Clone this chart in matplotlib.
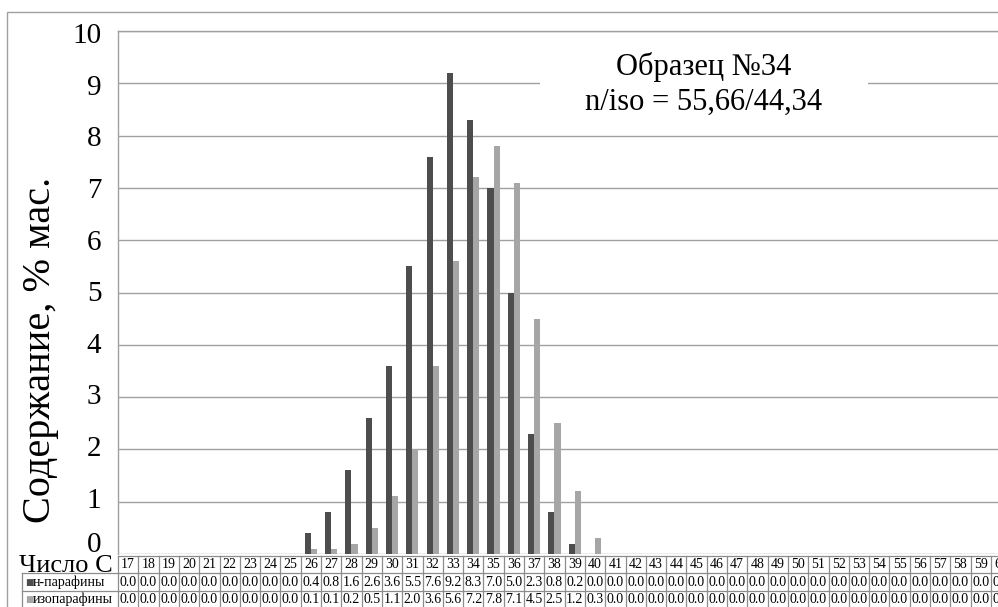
import numpy as np
import matplotlib
matplotlib.use("Agg")
import matplotlib.pyplot as plt
from matplotlib.patches import Rectangle
from matplotlib.transforms import blended_transform_factory, ScaledTranslation

# --- Données : распределение н- и изопарафинов по числу атомов C ---
carbon = list(range(17, 61))
n_paraffins = [0.0, 0.0, 0.0, 0.0, 0.0, 0.0, 0.0, 0.0, 0.0, 0.4, 0.8,
               1.6, 2.6, 3.6, 5.5, 7.6, 9.2, 8.3, 7.0, 5.0, 2.3, 0.8, 0.2,
               0.0, 0.0, 0.0, 0.0, 0.0, 0.0, 0.0, 0.0, 0.0, 0.0, 0.0, 0.0,
               0.0, 0.0, 0.0, 0.0, 0.0, 0.0, 0.0, 0.0, 0.0]
iso_paraffins = [0.0, 0.0, 0.0, 0.0, 0.0, 0.0, 0.0, 0.0, 0.0, 0.1, 0.1,
                 0.2, 0.5, 1.1, 2.0, 3.6, 5.6, 7.2, 7.8, 7.1, 4.5, 2.5, 1.2,
                 0.3, 0.0, 0.0, 0.0, 0.0, 0.0, 0.0, 0.0, 0.0, 0.0, 0.0, 0.0,
                 0.0, 0.0, 0.0, 0.0, 0.0, 0.0, 0.0, 0.0, 0.0]
series_names = ["н-парафины", "изопарафины"]
y_ticks = list(range(0, 11))

DARK = "#4d4d4d"
LIGHT = "#a6a6a6"
GRID = "#a0a0a0"
TABLE = "#8c8c8c"
SERIF = ["Liberation Serif", "DejaVu Serif"]

W, H = 998, 607
fig = plt.figure(figsize=(W / 100, H / 100), dpi=100)


def fx(px):
    return px / W


def fy(py):
    return 1 - py / H


# рамка всей диаграммы
fig.add_artist(Rectangle((fx(7), fy(H + 20)), 2, fy(12) - fy(H + 20),
                         transform=fig.transFigure, fill=False,
                         edgecolor=GRID, lw=1.0))

# --- Область построения ---
col_w = 20.3
n = len(carbon)
left, right = 118, 118 + n * col_w
top, base = 31, 554
ax = fig.add_axes([fx(left), fy(base), fx(right - left), fy(top) - fy(base)])
x = np.arange(n)
ax.bar(x - 0.15, n_paraffins, width=0.3, color=DARK, zorder=3)
ax.bar(x + 0.15, iso_paraffins, width=0.3, color=LIGHT, zorder=3)
ax.set_xlim(-0.5, n - 0.5)
ax.set_ylim(0, 10)
ax.set_yticks(y_ticks)
ax.set_yticklabels([str(t) for t in y_ticks], family=SERIF, fontsize=21)
ax.tick_params(axis="y", length=0, pad=12)
ax.set_xticks([])
ax.grid(axis="y", color=GRID, lw=1.0, zorder=0)
for s in ["right", "bottom"]:
    ax.spines[s].set_visible(False)
for s in ["left", "top"]:
    ax.spines[s].set_color(GRID)
    ax.spines[s].set_linewidth(1.0)

# подписи делений чуть сдвинуты, "0" прижат вверх над таблицей
for t, lab in zip(y_ticks, ax.get_yticklabels()):
    dy = -2 + (10 - t) * 6 / 9 if t > 0 else 12
    lab.set_transform(lab.get_transform() +
                      ScaledTranslation(0, dy / 100, fig.dpi_scale_trans))

fig.text(fx(41), fy(350), "Содержание, % мас.", rotation=90,
         ha="center", va="center", family=SERIF, fontsize=29)

# подпись образца на белой плашке
ax.add_patch(Rectangle((0.4726, 0.82), 0.3673, 0.163, transform=ax.transAxes,
                       facecolor="white", edgecolor="none", zorder=4))
ax.text(0.656, 0.932, "Образец №34", transform=ax.transAxes, ha="center",
        va="center", family=SERIF, fontsize=22, zorder=5)
ax.text(0.656, 0.864, "n/iso = 55,66/44,34", transform=ax.transAxes,
        ha="center", va="center", family=SERIF, fontsize=22, zorder=5)

# --- Таблица данных под осью ---
tab = fig.add_axes([fx(left), 0, fx(right - left), fy(base)])
tab.set_xlim(-0.5, n - 0.5)
tab.set_ylim(H, base)
tab.axis("off")
rows = [556, 573, 591, 608]
for r in rows:
    tab.plot([-0.5, n - 0.5], [r, r], color=TABLE, lw=0.9, clip_on=False)
for i in range(n + 1):
    tab.plot([i - 0.5, i - 0.5], [rows[0], rows[-1]], color=TABLE, lw=0.9,
             clip_on=False)

for i, c in enumerate(carbon):
    tab.text(i, (rows[0] + rows[1]) / 2, str(c), ha="center", va="center",
             family=SERIF, fontsize=10)
    tab.text(i, (rows[1] + rows[2]) / 2, f"{n_paraffins[i]:.1f}", ha="center",
             va="center", family=SERIF, fontsize=10)
    tab.text(i, (rows[2] + rows[3]) / 2, f"{iso_paraffins[i]:.1f}", ha="center",
             va="center", family=SERIF, fontsize=10)

# заголовки строк таблицы
bt = blended_transform_factory(fig.transFigure, tab.transData)
tab.text(fx(113), (rows[0] + rows[1]) / 2 + 1, "Число С", transform=bt,
         ha="right", va="center", family=SERIF, fontsize=19, clip_on=False)
for r in (1, 2):
    tab.plot([fx(22), fx(left)], [rows[r], rows[r]], color=TABLE, lw=0.9,
             transform=bt, clip_on=False)
tab.plot([fx(22), fx(22)], [rows[1], rows[3]], color=TABLE, lw=0.9,
         transform=bt, clip_on=False)
for r, name, col in zip((1, 2), series_names, (DARK, LIGHT)):
    yc = (rows[r] + rows[r + 1]) / 2
    tab.text(fx(25), yc, "■", transform=bt, ha="left", va="center",
             color=col, family="DejaVu Sans", fontsize=6.5, clip_on=False)
    tab.text(fx(33), yc, name, transform=bt, ha="left", va="center",
             family=SERIF, fontsize=10, clip_on=False)

fig.savefig("out.png", dpi=100)
